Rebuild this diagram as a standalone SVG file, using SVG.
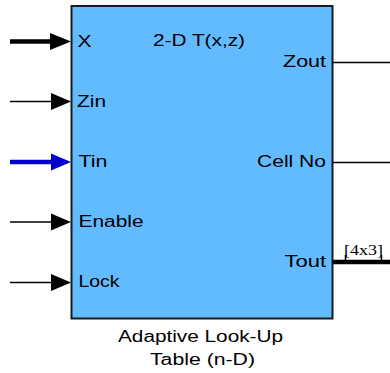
<svg xmlns="http://www.w3.org/2000/svg" width="390" height="373" viewBox="0 0 390 373">
<style>
.lbl{font-family:"Liberation Sans",Arial,sans-serif;font-size:16px;fill:#000;}
.dim{font-family:"Liberation Serif","Times New Roman",serif;font-size:15px;fill:#000;}
.thin{stroke:#000;stroke-width:1.5;fill:none;}
.thick{stroke:#000;stroke-width:4.5;fill:none;}
.blue{stroke:#0000cc;stroke-width:4.5;fill:none;}
</style>
<rect width="390" height="373" fill="#fff"/>
<g id="connectors">
  <line class="thick" x1="10" y1="41.5" x2="55" y2="41.5"/>
  <polygon points="50,33 71,41.5 50,50" fill="#000"/>
  <line class="thin" x1="10" y1="101.5" x2="55" y2="101.5"/>
  <polygon points="51,93 71,101.5 51,110" fill="#000"/>
  <line class="blue" x1="10" y1="162" x2="55" y2="162"/>
  <polygon points="51,153.5 71,162 51,170.5" fill="#0000cc"/>
  <line class="thin" x1="10" y1="222" x2="55" y2="222"/>
  <polygon points="51,213.5 71,222 51,230.5" fill="#000"/>
  <line class="thin" x1="10" y1="282.5" x2="55" y2="282.5"/>
  <polygon points="51,274 71,282.5 51,291" fill="#000"/>
  <line class="thin" x1="333" y1="62.5" x2="390" y2="62.5"/>
  <line class="thin" x1="333" y1="162.5" x2="390" y2="162.5"/>
  <line class="thick" x1="333" y1="262" x2="390" y2="262"/>
  <line stroke="#000" stroke-width="1.5" x1="345.5" y1="255" x2="345.5" y2="261"/>
  <line stroke="#000" stroke-width="1.5" x1="381.5" y1="255" x2="381.5" y2="261"/>
  <text class="dim" x="344" y="255" textLength="39" lengthAdjust="spacingAndGlyphs">[4x3]</text>
</g>
<g id="block">
  <rect x="71.5" y="6" width="261" height="312.5" fill="#62baff" stroke="#1a1a1a" stroke-width="2"/>
  <text class="lbl" x="153" y="46" textLength="92" lengthAdjust="spacingAndGlyphs">2-D T(x,z)</text>
  <text class="lbl" x="77.5" y="47" textLength="14" lengthAdjust="spacingAndGlyphs">X</text>
  <text class="lbl" x="77" y="107" textLength="29" lengthAdjust="spacingAndGlyphs">Zin</text>
  <text class="lbl" x="78.5" y="167" textLength="29" lengthAdjust="spacingAndGlyphs">Tin</text>
  <text class="lbl" x="78.5" y="227" textLength="65" lengthAdjust="spacingAndGlyphs">Enable</text>
  <text class="lbl" x="78.5" y="287" textLength="41" lengthAdjust="spacingAndGlyphs">Lock</text>
  <text class="lbl" x="283" y="67" textLength="43" lengthAdjust="spacingAndGlyphs">Zout</text>
  <text class="lbl" x="257" y="167" textLength="69" lengthAdjust="spacingAndGlyphs">Cell No</text>
  <text class="lbl" x="284.5" y="267" textLength="41.5" lengthAdjust="spacingAndGlyphs">Tout</text>
  <text class="lbl" x="118" y="342" textLength="165" lengthAdjust="spacingAndGlyphs">Adaptive Look-Up</text>
  <text class="lbl" x="150" y="365" textLength="105" lengthAdjust="spacingAndGlyphs">Table (n-D)</text>
</g>
</svg>
